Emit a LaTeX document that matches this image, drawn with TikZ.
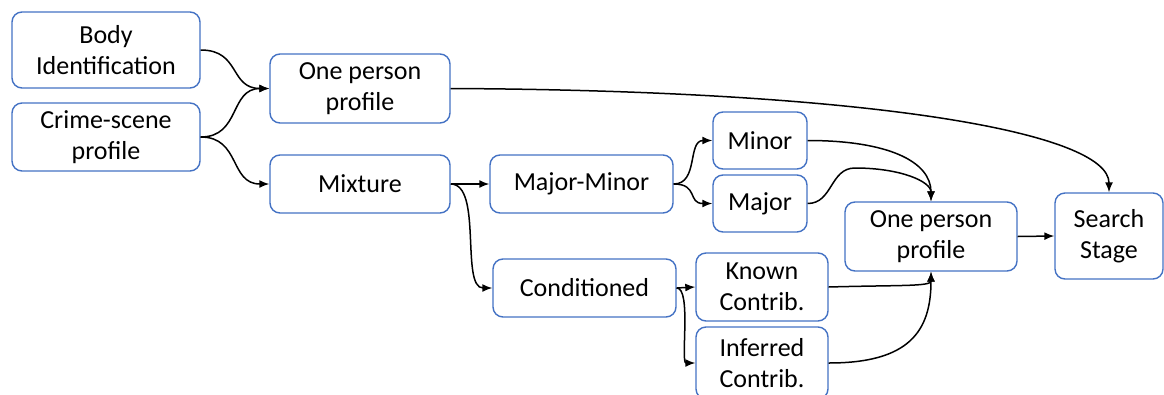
\documentclass[tikz,border=0pt]{standalone}
\usepackage{fontspec}
\setmainfont{Carlito}
\usetikzlibrary{arrows.meta}
\definecolor{boxblue}{HTML}{4472C4}
\begin{document}
\begin{tikzpicture}[x=1pt,y=-1pt,
  box/.style={draw=boxblue,line width=1.4pt,rounded corners=10pt,fill=white,
    align=center,inner sep=0pt,font=\fontsize{26}{31}\selectfont},
  conn/.style={line width=1.5pt,-{Latex[length=10pt,width=8pt]}}]
\useasboundingbox (0,0) rectangle (1164,394);
\node[box,minimum width=188pt,minimum height=76pt] (body) at (106,50) {Body\\Identification};
\node[box,minimum width=188pt,minimum height=68pt] (crime) at (106,137) {Crime-scene\\profile};
\node[box,minimum width=180pt,minimum height=69pt] (oneA) at (360,88.5) {One person\\profile};
\node[box,minimum width=180pt,minimum height=58pt] (mix) at (360,184) {Mixture};
\node[box,minimum width=183pt,minimum height=58pt] (mm) at (581.5,184) {Major-Minor};
\node[box,minimum width=94pt,minimum height=57pt] (minor) at (760,140.5) {Minor};
\node[box,minimum width=94pt,minimum height=57pt] (major) at (760,203.5) {Major};
\node[box,minimum width=183pt,minimum height=58pt] (cond) at (584.5,288) {Conditioned};
\node[box,minimum width=132pt,minimum height=68pt] (known) at (762,287) {Known\\Contrib.};
\node[box,minimum width=132pt,minimum height=72pt] (inf) at (762,363) {Inferred\\Contrib.};
\node[box,minimum width=172pt,minimum height=69pt] (oneB) at (931,236.5) {One person\\profile};
\node[box,minimum width=108pt,minimum height=86pt] (search) at (1109,236) {Search\\Stage};

\draw[conn] (body.east) .. controls +(40,0) and +(-40,0) .. (oneA.west);
\draw[conn] (crime.east) .. controls +(40,0) and +(-40,0) .. (oneA.west);
\draw[conn] (crime.east) .. controls +(40,0) and +(-40,0) .. (mix.west);
\draw[conn] (oneA.east) .. controls +(420,2) and +(0,-60) .. (search.north);
\draw[conn] (mix.east) -- (mm.west);
\draw[conn] (mix.east) .. controls +(32,0) and +(-32,0) .. (cond.west);
\draw[conn] (mm.east) .. controls +(25,0) and +(-25,0) .. (minor.west);
\draw[conn] (mm.east) .. controls +(25,0) and +(-25,0) .. (major.west);
\draw[conn] (minor.east) .. controls +(80,0) and +(0,-40) .. (oneB.north);
\draw[conn] (major.east) .. controls +(25,0) and +(-25,0) .. (855,168) .. controls +(45,0) and +(0,-20) .. (oneB.north);
\draw[conn] (cond.east) -- (known.west);
\draw[conn] (cond.east) .. controls +(15,0) and +(-15,0) .. (inf.west);
\draw[conn] (known.east) .. controls +(70,-2) and +(0,15) .. (oneB.south);
\draw[conn] (inf.east) .. controls +(80,0) and +(0,60) .. (oneB.south);
\draw[conn] (oneB.east) -- (search.west);
\end{tikzpicture}
\end{document}
